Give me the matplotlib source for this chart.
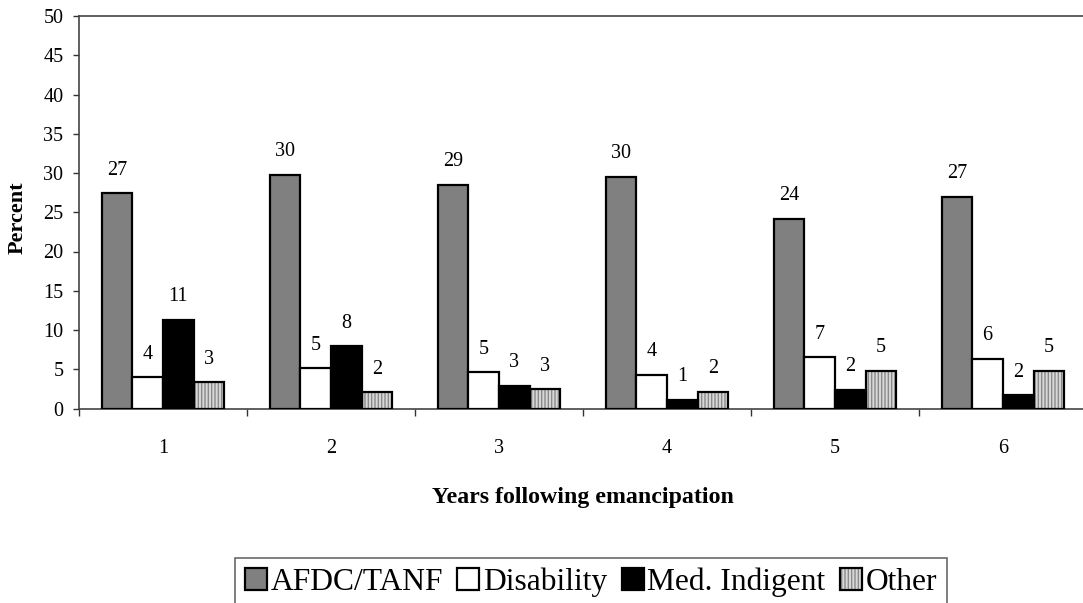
import matplotlib
matplotlib.use("Agg")
import matplotlib.pyplot as plt
from matplotlib.patches import Patch
from matplotlib.legend_handler import HandlerTuple
import numpy as np

plt.rcParams['font.family'] = ['Liberation Serif', 'DejaVu Serif']

years = ['1', '2', '3', '4', '5', '6']
series_names = ['AFDC/TANF', 'Disability', 'Med. Indigent', 'Other']
afdc = [27.4, 29.8, 28.5, 29.5, 24.2, 27.0]
disability = [4.0, 5.1, 4.6, 4.3, 6.5, 6.3]
med_indigent = [11.3, 7.9, 2.9, 1.1, 2.4, 1.7]
other = [3.35, 2.05, 2.45, 2.1, 4.8, 4.8]
labels_afdc = ['27', '30', '29', '30', '24', '27']
labels_dis = ['4', '5', '5', '4', '7', '6']
labels_med = ['11', '8', '3', '1', '2', '2']
labels_oth = ['3', '2', '3', '2', '5', '5']
yticks = [0, 5, 10, 15, 20, 25, 30, 35, 40, 45, 50]

W, H = 1083, 603
fig = plt.figure(figsize=(W / 100, H / 100), dpi=100)
L, R, T, B = 79, 1087, 16, 408.5
ax = fig.add_axes([L / W, 1 - B / H, (R - L) / W, (B - T) / H])

x = np.arange(len(years))
w = 0.183
faces = ['#808080', '#ffffff', '#000000', '#d8d8d8']
values = [afdc, disability, med_indigent, other]
labs = [labels_afdc, labels_dis, labels_med, labels_oth]
for k, (vals, fc, lb) in enumerate(zip(values, faces, labs)):
    pos = x + (k - 1.5) * w
    if k == 3:
        ax.bar(pos, vals, w, color=fc, edgecolor='#8a8a8a', hatch='|||||', linewidth=0, zorder=2)
        ax.bar(pos, vals, w, facecolor='none', edgecolor='black', linewidth=1.6, zorder=3)
    else:
        ax.bar(pos, vals, w, color=fc, edgecolor='black', linewidth=1.6, zorder=3)
    for p, v, t in zip(pos, vals, lb):
        ax.annotate(t, (p, v), xytext=(0, 16.6), textcoords='offset points',
                    ha='center', va='center', fontsize=14.5)

ax.set_xlim(-0.5, 5.5)
ax.set_ylim(0, 50)
ax.set_yticks(yticks)
ax.set_yticklabels([str(v) for v in yticks])
ax.set_xticks(x)
ax.set_xticklabels(years)
ax.set_xticks(np.arange(-0.5, 6.0, 1.0), minor=True)
ax.tick_params(axis='x', which='major', length=0, pad=22, labelsize=14.5)
ax.tick_params(axis='x', which='minor', length=5, width=1.0, direction='out', color='#333333')
ax.tick_params(axis='y', length=4.3, width=1.0, direction='out', pad=7, labelsize=14.5, color='#333333')

for s in ['left', 'bottom', 'top', 'right']:
    ax.spines[s].set_color('#444444')
    ax.spines[s].set_linewidth(1.2)

ax.set_xlabel('Years following emancipation', fontsize=17.2, fontweight='bold', va='center')
ax.xaxis.set_label_coords(0.5, (B - 498) / (B - T))
ax.set_ylabel('Percent', fontsize=16, fontweight='bold', va='center')
ax.yaxis.set_label_coords((18 - L) / (R - L), (B - 218) / (B - T))

handles = [
    Patch(facecolor=faces[0], edgecolor='black', linewidth=1.6),
    Patch(facecolor=faces[1], edgecolor='black', linewidth=1.6),
    Patch(facecolor=faces[2], edgecolor='black', linewidth=1.6),
    (Patch(facecolor=faces[3], edgecolor='#8a8a8a', hatch='|||||', linewidth=0),
     Patch(facecolor='none', edgecolor='black', linewidth=1.6)),
]
leg = fig.legend(handles, series_names, loc='upper center',
                 bbox_to_anchor=(591 / W, 1 - 558.3 / H), ncol=4, fontsize=22.7,
                 frameon=True, fancybox=False, shadow=False, edgecolor='#444444',
                 handlelength=0.7, handleheight=0.7, handletextpad=0.12,
                 columnspacing=0.45, borderpad=0.3, borderaxespad=0,
                 handler_map={tuple: HandlerTuple(ndivide=1, pad=0)})
leg.get_frame().set_linewidth(1.2)

fig.savefig('out.png', dpi=100)
